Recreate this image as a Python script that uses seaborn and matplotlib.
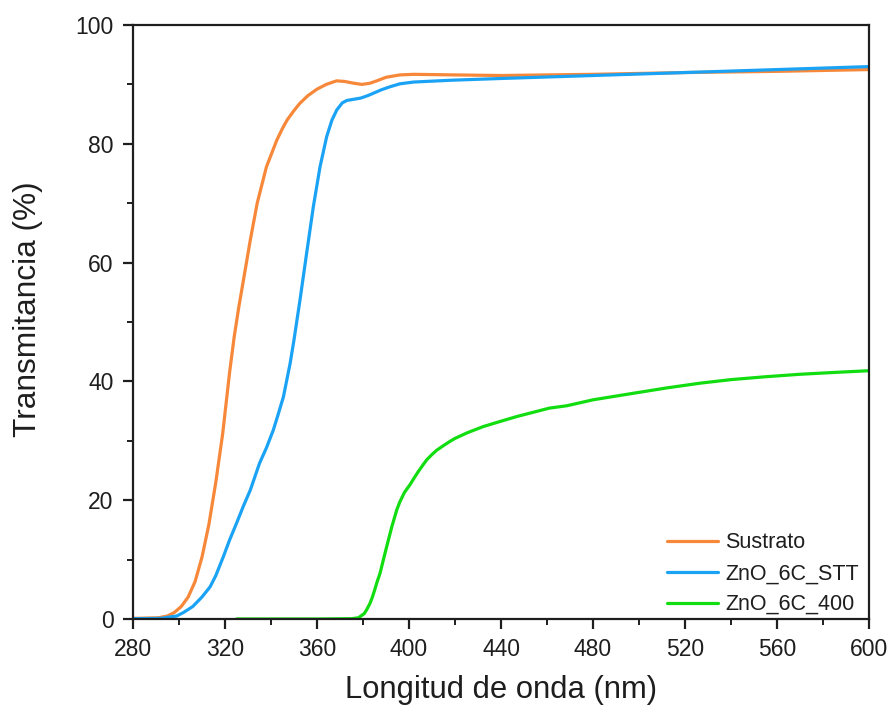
import matplotlib
matplotlib.use("Agg")
import matplotlib.pyplot as plt
from matplotlib.ticker import MultipleLocator
import pandas as pd
import seaborn as sns

# Transmittance spectra (wavelength in nm, transmittance in %)
sustrato_wl = [280, 291, 295, 298, 301, 304, 307, 310, 313, 316, 319, 322, 324, 326,
               328, 331, 334, 338, 342.5, 345, 347, 350, 352.5, 356, 360, 364, 368.5,
               372, 376, 379.5, 383, 386, 390, 396, 402, 420, 440, 480, 520, 560, 600]
sustrato_t = [0.1, 0.2, 0.5, 1.1, 2.1, 3.7, 6.3, 10.4, 15.9, 23.0, 31.2, 41.5, 47.5,
              52.5, 57.0, 63.8, 70.0, 76.1, 80.6, 82.6, 84.0, 85.6, 86.8, 88.1, 89.2,
              90.0, 90.6, 90.5, 90.2, 90.0, 90.2, 90.6, 91.2, 91.6, 91.7, 91.6, 91.5,
              91.7, 92.0, 92.2, 92.5]

stt_wl = [280, 292, 299, 302, 306, 310, 313.5, 316, 319.3, 322, 325, 328, 331, 335,
          338, 341, 343, 345.4, 348.3, 350, 352.6, 355.5, 358.4, 361.3, 364.2, 366.5,
          368.6, 371, 373, 376, 379, 382, 385, 388, 391.7, 396, 402, 418, 440, 480,
          520, 560, 600]
stt_t = [0.05, 0.1, 0.5, 1.1, 2.1, 3.7, 5.4, 7.3, 10.5, 13.3, 16.1, 19.0, 21.7, 26.2,
         28.8, 31.8, 34.3, 37.4, 43.0, 47.0, 53.7, 61.6, 69.4, 76.1, 81.2, 84.0, 85.7,
         86.9, 87.3, 87.5, 87.7, 88.1, 88.6, 89.1, 89.6, 90.1, 90.4, 90.7, 91.0, 91.5,
         92.0, 92.5, 93.0]

c400_wl = [325, 340, 360, 375, 378, 380.5, 381.5, 383, 384, 385, 386, 387.4, 389,
           390.3, 391.5, 392.5, 394.7, 396, 398, 400.4, 402, 404, 406, 407.7, 410, 412,
           415, 417.8, 420, 425, 432.3, 440, 447, 461, 468.6, 480, 497.5, 512, 526.5,
           540, 555.5, 570, 584.5, 600]
c400_t = [0.0, 0.0, 0.0, 0.05, 0.2, 0.9, 1.5, 2.6, 3.6, 4.8, 6.1, 7.7, 10.2, 12.2,
          14.0, 15.5, 18.4, 19.7, 21.3, 22.6, 23.6, 24.8, 25.9, 26.8, 27.7, 28.4, 29.2,
          29.9, 30.4, 31.3, 32.4, 33.3, 34.1, 35.5, 35.9, 36.9, 38.0, 38.9, 39.7, 40.3,
          40.8, 41.2, 41.5, 41.8]

labels = ["Sustrato", "ZnO_6C_STT", "ZnO_6C_400"]
colors = ["#F7883A", "#1AA3F5", "#11DD11"]

x_ticks = list(range(280, 601, 40))
y_ticks = list(range(0, 101, 20))

df = pd.concat([
    pd.DataFrame({"wl": sustrato_wl, "T": sustrato_t, "muestra": labels[0]}),
    pd.DataFrame({"wl": stt_wl, "T": stt_t, "muestra": labels[1]}),
    pd.DataFrame({"wl": c400_wl, "T": c400_t, "muestra": labels[2]}),
], ignore_index=True)

sns.set_theme(style="ticks")
plt.rcParams["font.family"] = ["Liberation Sans", "DejaVu Sans"]

fig = plt.figure(figsize=(8.96, 7.15), dpi=100)
ax = fig.add_axes([0.1484, 0.1343, 0.8216, 0.8307])

sns.lineplot(data=df, x="wl", y="T", hue="muestra", hue_order=labels,
             palette=dict(zip(labels, colors)), estimator=None, sort=True,
             linewidth=2.3, ax=ax)

ax.set_xlim(280, 600)
ax.set_ylim(0, 100)
ax.set_xticks(x_ticks)
ax.set_yticks(y_ticks)
ax.xaxis.set_minor_locator(MultipleLocator(20))
ax.yaxis.set_minor_locator(MultipleLocator(10))

ink = "#1E1E1E"
for side in ["top", "right", "bottom", "left"]:
    ax.spines[side].set_visible(True)
    ax.spines[side].set_linewidth(1.6)
    ax.spines[side].set_color(ink)

ax.tick_params(which="major", direction="out", length=7, width=1.6,
               labelsize=16.5, pad=7, color=ink, labelcolor=ink)
ax.tick_params(which="minor", direction="out", length=4.2, width=1.4, color=ink)
ax.tick_params(top=False, right=False, which="both")

ax.set_xlabel("Longitud de onda (nm)", fontsize=22.3, labelpad=10, color=ink)
ax.set_ylabel("Transmitancia (%)", fontsize=22.8, color=ink)
ax.yaxis.set_label_coords(-0.122, 0.522)

leg = ax.legend(loc="lower right", bbox_to_anchor=(0.998, -0.008), frameon=False,
                fontsize=15.5, handlelength=2.4, handletextpad=0.33,
                labelspacing=0.46, borderaxespad=0)
for line in leg.get_lines():
    line.set_linewidth(2.3)
for txt in leg.get_texts():
    txt.set_color(ink)

fig.savefig("out.png", dpi=100)
